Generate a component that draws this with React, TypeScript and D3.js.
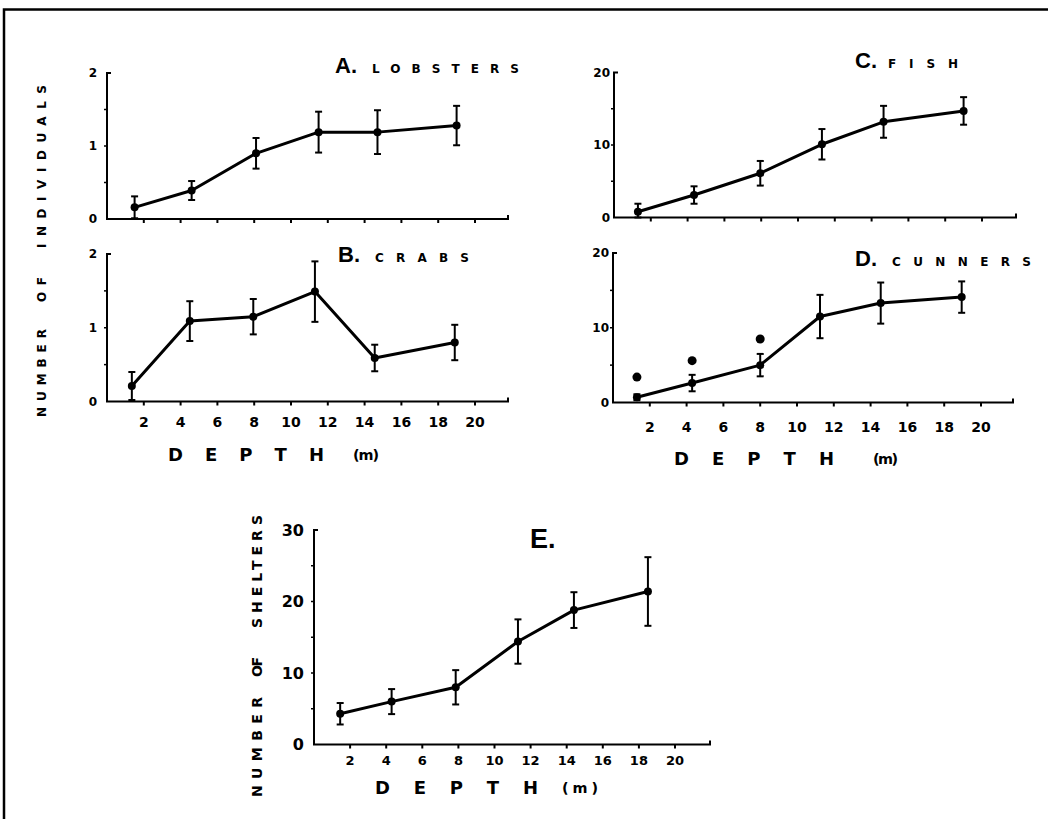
import React from "react";
import * as d3 from "d3";

// depth (m) of each station, read per panel
const depthA = [1.5, 4.6, 8.1, 11.5, 14.7, 19.0];
const lobsters = [0.16, 0.39, 0.9, 1.19, 1.19, 1.28];
const lobstersErr = [0.15, 0.13, 0.21, 0.28, 0.3, 0.27];

const depthB = [1.35, 4.5, 7.95, 11.3, 14.55, 18.9];
const crabs = [0.21, 1.09, 1.15, 1.49, 0.59, 0.8];
const crabsErr = [0.19, 0.27, 0.24, 0.41, 0.18, 0.24];

const depthC = [1.3, 4.35, 7.95, 11.3, 14.65, 19.0];
const fish = [0.8, 3.1, 6.1, 10.1, 13.2, 14.7];
const fishErr = [1.1, 1.2, 1.7, 2.1, 2.2, 1.9];

const depthD = [1.3, 4.3, 8.0, 11.25, 14.55, 18.95];
const cunners = [0.7, 2.6, 5.0, 11.5, 13.3, 14.1];
const cunnersErr = [0.4, 1.1, 1.5, 2.9, 2.75, 2.1];
const starDepths = [1.3, 4.3, 8.0];
const starValues = [3.4, 5.6, 8.5];

const depthE = [1.45, 4.3, 7.85, 11.3, 14.4, 18.5];
const shelters = [4.3, 6.0, 8.0, 14.4, 18.8, 21.4];
const sheltersErr = [1.5, 1.75, 2.4, 3.1, 2.5, 4.8];

const xTickValues = [2, 4, 6, 8, 10, 12, 14, 16, 18, 20];
const yTicksSmall = [0, 1, 2];
const yTicksLarge = [0, 10, 20];
const yTicksE = [0, 10, 20, 30];

const FONT = "'DejaVu Sans', Arial, sans-serif";
const HEAD_FONT = "'Liberation Sans', Arial, sans-serif";

interface PanelProps {
  x0: number; x20: number; xEnd: number;
  y0: number; yTop: number; yMax: number; minor: number;
  yTicks: number[]; yLabelSize: number; yLabelGap: number;
  showXLabels: boolean; xLabelY?: number; xLabelSize?: number;
  depths: number[]; values: number[]; errs: number[];
  stars?: { d: number[]; v: number[] };
  letter: string; name: string; titleX: number; titleY: number;
  letterSize: number; nameX: number; nameEnd: number;
}

const Panel: React.FC<PanelProps> = (p) => {
  const x = d3.scaleLinear().domain([0, 20]).range([p.x0, p.x20]);
  const y = d3.scaleLinear().domain([0, p.yMax]).range([p.y0, p.yTop]);
  const pts = p.depths.map((d, i) => [d, p.values[i]] as [number, number]);
  const line = d3.line<[number, number]>().x((d) => x(d[0])).y((d) => y(d[1]));
  const minors = d3.range(p.minor, p.yMax, p.minor);
  return (
    <g>
      {/* axes */}
      <path d={`M${p.x0 + 4},${p.yTop}H${p.x0}V${p.y0}H${p.xEnd}V${p.y0 - 4}`} fill="none" stroke="#000" strokeWidth={2} />
      {xTickValues.map((t) => (
        <line key={t} x1={x(t)} x2={x(t)} y1={p.y0} y2={p.y0 + 4} stroke="#000" strokeWidth={2} />
      ))}
      {minors.map((t) => (
        <line key={t} x1={p.x0 - 3} x2={p.x0} y1={y(t)} y2={y(t)} stroke="#000" strokeWidth={1.5} />
      ))}
      {p.yTicks.map((t) => (
        <text key={t} x={p.x0 - p.yLabelGap} y={y(t)} dy="0.36em" textAnchor="end"
          fontFamily={FONT} fontWeight="bold" fontSize={p.yLabelSize}>{t}</text>
      ))}
      {p.showXLabels && xTickValues.map((t) => (
        <text key={t} x={x(t)} y={p.xLabelY} dy="0.36em" textAnchor="middle"
          fontFamily={FONT} fontWeight="bold" fontSize={p.xLabelSize}>{t}</text>
      ))}
      {/* error bars */}
      {pts.map((d, i) => {
        const cx = x(d[0]);
        const hi = y(d[1] + p.errs[i]);
        const lo = y(Math.max(0, d[1] - p.errs[i]));
        return (
          <g key={i} stroke="#000" strokeWidth={2}>
            <line x1={cx} x2={cx} y1={hi} y2={lo} />
            <line x1={cx - 3.5} x2={cx + 3.5} y1={hi} y2={hi} />
            <line x1={cx - 3.5} x2={cx + 3.5} y1={lo} y2={lo} />
          </g>
        );
      })}
      <path d={line(pts) || ""} fill="none" stroke="#000" strokeWidth={3} strokeLinejoin="round" />
      {pts.map((d, i) => (
        <circle key={i} cx={x(d[0])} cy={y(d[1])} r={4} fill="#000" />
      ))}
      {p.stars && p.stars.d.map((d, i) => (
        <circle key={"s" + i} cx={x(d)} cy={y(p.stars!.v[i])} r={4.5} fill="#000" />
      ))}
      {/* title */}
      <text x={p.titleX} y={p.titleY} fontFamily={HEAD_FONT} fontWeight="bold" fontSize={p.letterSize}>{p.letter}</text>
      {p.name && (
        <text x={p.nameX} y={p.titleY} fontFamily={FONT} fontWeight="bold" fontSize={12}
          textLength={p.nameEnd - p.nameX} lengthAdjust="spacing">{p.name}</text>
      )}
    </g>
  );
};

const VWord: React.FC<{ x: number; yb: number; yt: number; text: string; size: number }> = ({ x, yb, yt, text, size }) => (
  <text transform={`translate(${x},${yb}) rotate(-90)`} dy="0.36em" fontFamily={FONT} fontWeight="bold"
    fontSize={size} textLength={yb - yt} lengthAdjust="spacing">{text}</text>
);

const DepthTitle: React.FC<{ x1: number; x2: number; m1: number; m2: number; y: number; size: number }> = ({ x1, x2, m1, m2, y, size }) => (
  <g fontFamily={FONT} fontWeight="bold" fontSize={size}>
    <text x={x1} y={y} dy="0.36em" textLength={x2 - x1} lengthAdjust="spacing">DEPTH</text>
    <text x={m1} y={y} dy="0.36em" fontSize={size * 0.8} textLength={m2 - m1} lengthAdjust="spacing">(m)</text>
  </g>
);

export default function App() {
  return (
    <svg width={1048} height={819} style={{ position: "absolute", left: 0, top: 0, background: "#fff" }}>
      <rect width={1048} height={819} fill="#fff" />
      <path d="M4,819V9.5H1048" fill="none" stroke="#000" strokeWidth={2.5} />

      <Panel x0={107} x20={475} xEnd={508} y0={219} yTop={73} yMax={2} minor={0.5}
        yTicks={yTicksSmall} yLabelSize={12} yLabelGap={10} showXLabels={false}
        depths={depthA} values={lobsters} errs={lobstersErr}
        letter="A." name="LOBSTERS" titleX={335} titleY={73} letterSize={22} nameX={372} nameEnd={519} />
      <Panel x0={107} x20={475} xEnd={508} y0={401.5} yTop={254} yMax={2} minor={0.5}
        yTicks={yTicksSmall} yLabelSize={12} yLabelGap={10} showXLabels={true} xLabelY={422} xLabelSize={14}
        depths={depthB} values={crabs} errs={crabsErr}
        letter="B." name="CRABS" titleX={338} titleY={262} letterSize={22} nameX={375} nameEnd={469} />
      <Panel x0={614} x20={982} xEnd={1016} y0={217.5} yTop={72.5} yMax={20} minor={5}
        yTicks={yTicksLarge} yLabelSize={12} yLabelGap={4} showXLabels={false}
        depths={depthC} values={fish} errs={fishErr}
        letter="C." name="FISH" titleX={855} titleY={68} letterSize={22} nameX={888} nameEnd={958} />
      <Panel x0={613} x20={981} xEnd={1013} y0={402.5} yTop={253} yMax={20} minor={5}
        yTicks={yTicksLarge} yLabelSize={12} yLabelGap={4} showXLabels={true} xLabelY={427} xLabelSize={14}
        depths={depthD} values={cunners} errs={cunnersErr} stars={{ d: starDepths, v: starValues }}
        letter="D." name="CUNNERS" titleX={855} titleY={266} letterSize={22} nameX={892} nameEnd={1031} />
      <Panel x0={314} x20={675} xEnd={710} y0={744.5} yTop={530} yMax={30} minor={5}
        yTicks={yTicksE} yLabelSize={16} yLabelGap={10} showXLabels={true} xLabelY={760} xLabelSize={13}
        depths={depthE} values={shelters} errs={sheltersErr}
        letter="E." name="" titleX={530} titleY={548} letterSize={27} nameX={560} nameEnd={0} />

      <VWord x={42} yb={417} yt={329} text="NUMBER" size={12} />
      <VWord x={42} yb={302} yt={277} text="OF" size={12} />
      <VWord x={42} yb={248} yt={85} text="INDIVIDUALS" size={12} />

      <VWord x={257} yb={797} yt={697} text="NUMBER" size={14} />
      <VWord x={257} yb={677} yt={657} text="OF" size={14} />
      <VWord x={257} yb={628} yt={515} text="SHELTERS" size={14} />

      <DepthTitle x1={168} x2={324} m1={353} m2={379} y={455} size={18} />
      <DepthTitle x1={674} x2={834} m1={873} m2={898} y={459} size={18} />
      <DepthTitle x1={375} x2={538} m1={562} m2={598} y={788} size={18} />
    </svg>
  );
}
